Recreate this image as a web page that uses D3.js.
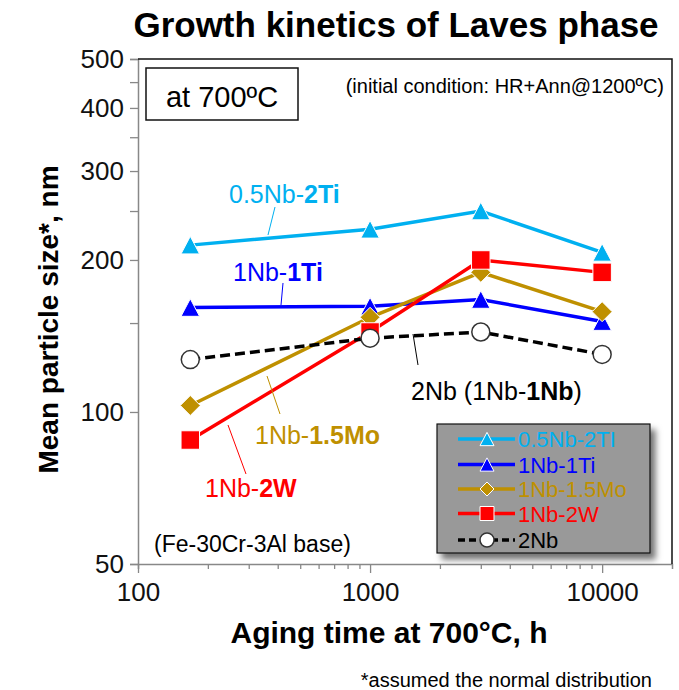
<!DOCTYPE html>
<html>
<head>
<meta charset="utf-8">
<script src="https://cdn.jsdelivr.net/npm/d3@7"></script>
<style>
  body { margin: 0; background: #fff; }
  svg { display: block; font-family: "Liberation Sans", Arial, sans-serif; }
</style>
</head>
<body>
<svg id="chart" width="679" height="690"></svg>
<script>
// Aging times (h) and mean Laves particle size (nm) for each alloy
const agingHours = [168, 1000, 3000, 10000];
const size05Nb2Ti = [214, 230, 250, 207];
const size1Nb1Ti = [161, 162, 167, 151];
const size1Nb15Mo = [103, 154, 189, 158];
const size1Nb2W = [88, 144, 200, 189];
const size2Nb = [127, 140, 144, 130];

const legendNames = ["0.5Nb-2TI", "1Nb-1Ti", "1Nb-1.5Mo", "1Nb-2W", "2Nb"];
const yTickValues = [50, 100, 150, 200, 250, 300, 350, 400, 450, 500];
const yTickLabels = [50, 100, 200, 300, 400, 500];
const xTickLabels = [100, 1000, 10000];

const svg = d3.select("#chart");
const plotL = 138, plotR = 672, plotT = 59, plotB = 564;

const x = d3.scaleLog().domain([100, 20000]).range([plotL, plotR]);
const y = d3.scaleLog().domain([50, 500]).range([plotB, plotT]);

const series = [
  { name: legendNames[0], values: size05Nb2Ti, color: "#00B0F0", shape: "triangle" },
  { name: legendNames[1], values: size1Nb1Ti, color: "#0000FF", shape: "triangle" },
  { name: legendNames[2], values: size1Nb15Mo, color: "#BF9000", shape: "diamond" },
  { name: legendNames[3], values: size1Nb2W, color: "#FF0000", shape: "square" },
  { name: legendNames[4], values: size2Nb, color: "#000000", shape: "circle", dashed: true }
];

// marker outline paths, centred on the bounding box
function markerPath(shape, s) {
  const h = s / 2;
  if (shape === "triangle") return `M0,${-h * 0.95}L${h},${h * 0.95}L${-h},${h * 0.95}Z`;
  if (shape === "diamond") return `M0,${-h}L${h},0L0,${h}L${-h},0Z`;
  if (shape === "square") return `M${-h},${-h}H${h}V${h}H${-h}Z`;
  return null;
}
function drawMarker(g, shape, color, cx, cy, s) {
  if (shape === "circle") {
    g.append("circle").attr("cx", cx).attr("cy", cy).attr("r", s / 2)
      .attr("fill", "#fff").attr("stroke", "#333").attr("stroke-width", 1.5);
  } else {
    g.append("path").attr("d", markerPath(shape, s))
      .attr("transform", `translate(${cx},${cy})`)
      .attr("fill", color).attr("stroke", "#fff").attr("stroke-width", 1);
  }
}

// Title
svg.append("text").attr("x", 396).attr("y", 37).attr("text-anchor", "middle")
  .attr("font-size", 35).attr("font-weight", "bold").text("Growth kinetics of Laves phase");

// Y axis (log, ticks every 50)
const yAxis = svg.append("g").attr("transform", `translate(${plotL},0)`)
  .call(d3.axisLeft(y).tickValues(yTickValues).tickSize(8).tickPadding(6)
    .tickFormat(d => yTickLabels.includes(d) ? d : ""));
yAxis.select(".domain").attr("stroke", "#888").attr("stroke-width", 1.5);
yAxis.selectAll(".tick line").attr("stroke", "#888").attr("stroke-width", 1.3);
yAxis.selectAll(".tick text").attr("font-size", 26).attr("fill", "#111")
  .attr("font-family", "Liberation Sans, Arial, sans-serif");

// X axis (log, minor ticks each decade)
const xTickValues = [];
for (let d = 100; d <= 10000; d *= 10) for (let k = 1; k <= 9; k++) if (d * k <= 10000) xTickValues.push(d * k);
const xAxis = svg.append("g").attr("transform", `translate(0,${plotB})`)
  .call(d3.axisBottom(x).tickValues(xTickValues).tickSize(5).tickPadding(14)
    .tickFormat(d => xTickLabels.includes(d) ? d : ""));
xAxis.select(".domain").attr("stroke", "#888").attr("stroke-width", 1.5);
xAxis.selectAll(".tick line").attr("stroke", "#888").attr("stroke-width", 1.3)
  .filter(d => xTickLabels.includes(d)).attr("y2", 9);
xAxis.selectAll(".tick text").attr("font-size", 26).attr("fill", "#111")
  .attr("font-family", "Liberation Sans, Arial, sans-serif");

// Top and right frame
svg.append("path").attr("d", `M${plotL},${plotT}H${plotR}V${plotB}`)
  .attr("fill", "none").attr("stroke", "#111").attr("stroke-width", 1.5);

// Axis titles
svg.append("text").attr("transform", `translate(58,${(plotT + plotB) / 2 + 8}) rotate(-90)`)
  .attr("text-anchor", "middle").attr("font-size", 28).attr("font-weight", "bold")
  .text("Mean particle size*, nm");
svg.append("text").attr("x", 389).attr("y", 643).attr("text-anchor", "middle")
  .attr("font-size", 30).attr("font-weight", "bold").text("Aging time at 700°C, h");
svg.append("text").attr("x", 652).attr("y", 687).attr("text-anchor", "end")
  .attr("font-size", 20).text("*assumed the normal distribution");

// Condition box and notes
svg.append("rect").attr("x", 146).attr("y", 68).attr("width", 152).attr("height", 52)
  .attr("fill", "#fff").attr("stroke", "#111").attr("stroke-width", 1.5);
svg.append("text").attr("x", 222).attr("y", 107).attr("text-anchor", "middle")
  .attr("font-size", 29).text("at 700ºC");
svg.append("text").attr("x", 664).attr("y", 93).attr("text-anchor", "end")
  .attr("font-size", 20).text("(initial condition: HR+Ann@1200ºC)");
svg.append("text").attr("x", 154).attr("y", 552)
  .attr("font-size", 23).text("(Fe-30Cr-3Al base)");

// Series lines and markers
const line = d3.line().x((d, i) => x(agingHours[i])).y(d => y(d));
series.forEach(s => {
  const g = svg.append("g");
  g.append("path").attr("d", line(s.values)).attr("fill", "none")
    .attr("stroke", s.color).attr("stroke-width", 3.5)
    .attr("stroke-dasharray", s.dashed ? "10,5" : null);
  s.values.forEach((v, i) => drawMarker(g, s.shape, s.color, x(agingHours[i]), y(v),
    s.shape === "circle" ? 18 : s.shape === "diamond" ? 20 : 18.5));
});

// Callout labels with leader lines
const callouts = [
  { color: "#00B0F0", tx: 229, ty: 203, parts: ["0.5Nb-", "2Ti"], l: [275, 207, 268, 235] },
  { color: "#0000FF", tx: 233, ty: 281, parts: ["1Nb-", "1Ti"], l: [283, 283, 281, 305] },
  { color: "#BF9000", tx: 255, ty: 444, parts: ["1Nb-", "1.5Mo"], l: [267, 376, 280, 414] },
  { color: "#FF0000", tx: 205, ty: 497, parts: ["1Nb-", "2W"], l: [228, 425, 246, 474] },
  { color: "#000000", tx: 411, ty: 400, parts: ["2Nb (1Nb-", "1Nb", ")"], l: [413, 334, 418, 365] }
];
callouts.forEach(c => {
  svg.append("line").attr("x1", c.l[0]).attr("y1", c.l[1]).attr("x2", c.l[2]).attr("y2", c.l[3])
    .attr("stroke", c.color).attr("stroke-width", 1);
  const t = svg.append("text").attr("x", c.tx).attr("y", c.ty).attr("font-size", 25).attr("fill", c.color);
  c.parts.forEach((p, i) => t.append("tspan").attr("font-weight", i === 1 ? "bold" : "normal").text(p));
});

// Legend
const defs = svg.append("defs");
const f = defs.append("filter").attr("id", "shadow").attr("x", "-10%").attr("y", "-10%")
  .attr("width", "130%").attr("height", "130%");
f.append("feDropShadow").attr("dx", 5).attr("dy", 6).attr("stdDeviation", 3)
  .attr("flood-color", "#000").attr("flood-opacity", 0.55);
const lg = svg.append("g");
lg.append("rect").attr("x", 437).attr("y", 424).attr("width", 213).attr("height", 129)
  .attr("fill", "#999").attr("stroke", "#111").attr("stroke-width", 1.2).attr("filter", "url(#shadow)");
const rowY = [439, 464.5, 489, 513.5, 540];
series.forEach((s, i) => {
  const ry = rowY[i];
  lg.append("line").attr("x1", 458).attr("x2", 515).attr("y1", ry).attr("y2", ry)
    .attr("stroke", s.color).attr("stroke-width", 3.5)
    .attr("stroke-dasharray", s.dashed ? "7,4" : null);
  drawMarker(lg, s.shape, s.color, 487, ry, 14);
  lg.append("text").attr("x", 518).attr("y", ry + 8).attr("font-size", 22)
    .attr("fill", s.color).text(s.name);
});
</script>
</body>
</html>
